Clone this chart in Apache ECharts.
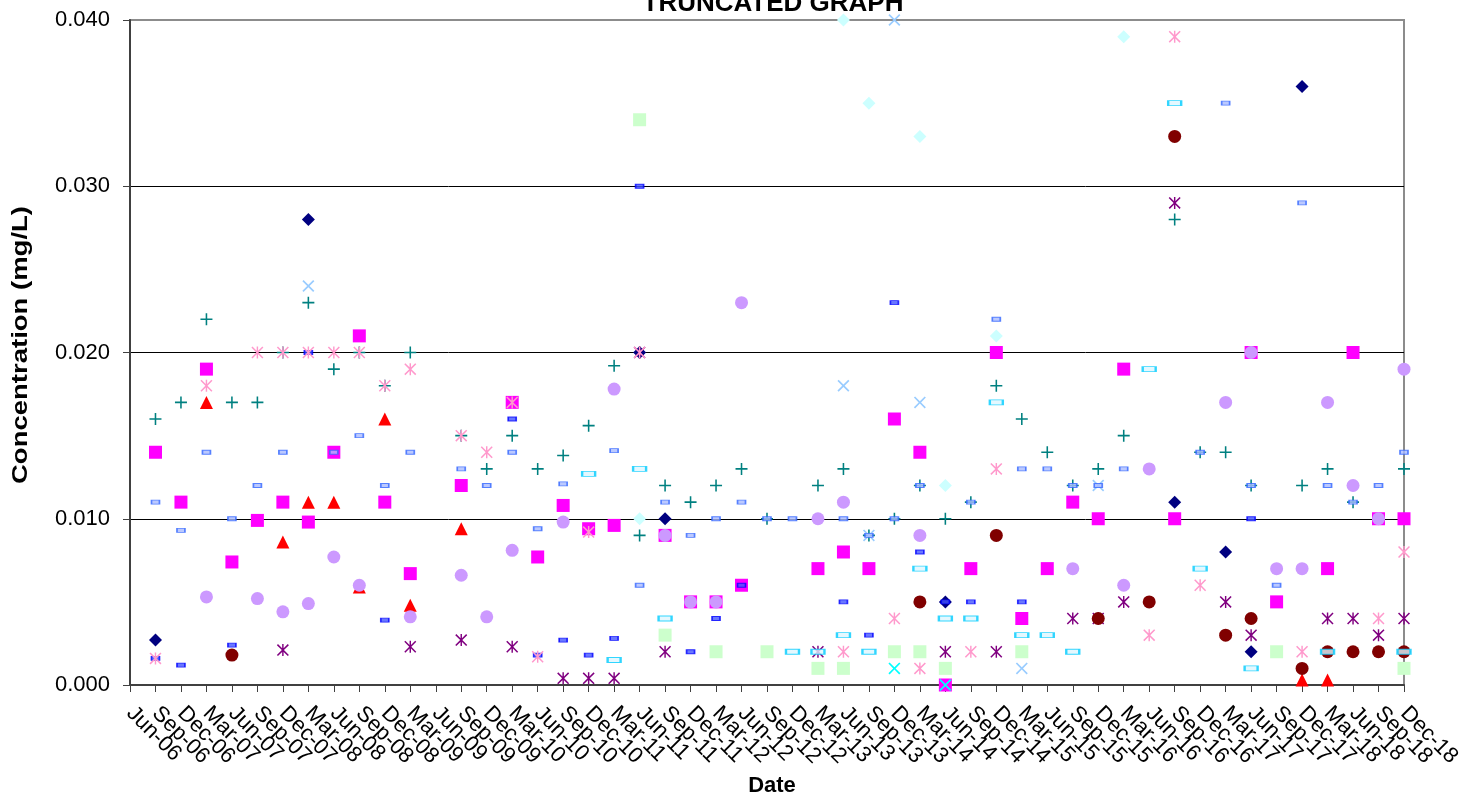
<!DOCTYPE html>
<html>
<head>
<meta charset="utf-8">
<script src="https://cdn.jsdelivr.net/npm/echarts@6/dist/echarts.min.js"></script>
<style>
  html, body { margin: 0; padding: 0; background: #fff; }
  #chart { width: 1479px; height: 797px; }
</style>
</head>
<body>
<div id="chart"></div>
<script>
// ---- Data (category index, concentration mg/L) ----
const categories = ['Jun-06','Sep-06','Dec-06','Mar-07','Jun-07','Sep-07','Dec-07','Mar-08','Jun-08','Sep-08','Dec-08','Mar-09','Jun-09','Sep-09','Dec-09','Mar-10','Jun-10','Sep-10','Dec-10','Mar-11','Jun-11','Sep-11','Dec-11','Mar-12','Jun-12','Sep-12','Dec-12','Mar-13','Jun-13','Sep-13','Dec-13','Mar-14','Jun-14','Sep-14','Dec-14','Mar-15','Jun-15','Sep-15','Dec-15','Mar-16','Jun-16','Sep-16','Dec-16','Mar-17','Jun-17','Sep-17','Dec-17','Mar-18','Jun-18','Sep-18','Dec-18'];
const yTickValues = [0, 0.01, 0.02, 0.03, 0.04];

const navyDiamond = [[1,0.0027],[7,0.028],[20,0.020],[21,0.010],[32,0.005],[41,0.011],[43,0.008],[44,0.002],[46,0.036]];
const magentaSquare = [[1,0.014],[2,0.011],[3,0.019],[4,0.0074],[5,0.0099],[6,0.011],[7,0.0098],[8,0.014],[9,0.021],[10,0.011],[11,0.0067],[13,0.012],[15,0.017],[16,0.0077],[17,0.0108],[18,0.0094],[19,0.0096],[21,0.009],[22,0.005],[23,0.005],[24,0.006],[27,0.007],[28,0.008],[29,0.007],[30,0.016],[31,0.014],[32,0.000],[33,0.007],[34,0.020],[35,0.004],[36,0.007],[37,0.011],[38,0.010],[39,0.019],[41,0.010],[44,0.020],[45,0.005],[47,0.007],[48,0.020],[49,0.010],[50,0.010]];
const redTriangle = [[3,0.017],[6,0.0086],[7,0.011],[8,0.011],[9,0.0059],[10,0.016],[11,0.0048],[13,0.0094],[46,0.0003],[47,0.0003]];
const cyanX = [[30,0.001],[32,0.000]];
const purpleAsterisk = [[6,0.0021],[11,0.0023],[13,0.0027],[15,0.0023],[17,0.0004],[18,0.0004],[19,0.0004],[20,0.020],[21,0.002],[27,0.002],[32,0.002],[34,0.002],[37,0.004],[38,0.004],[39,0.005],[41,0.029],[43,0.005],[44,0.003],[47,0.004],[48,0.004],[49,0.003],[50,0.004]];
const darkRedCircle = [[4,0.0018],[31,0.005],[34,0.009],[38,0.004],[40,0.005],[41,0.033],[43,0.003],[44,0.004],[46,0.001],[47,0.002],[48,0.002],[49,0.002],[50,0.002]];
const tealPlus = [[1,0.016],[2,0.017],[3,0.022],[4,0.017],[5,0.017],[6,0.020],[7,0.023],[8,0.019],[9,0.020],[10,0.018],[11,0.020],[13,0.015],[14,0.013],[15,0.015],[16,0.013],[17,0.0138],[18,0.0156],[19,0.0192],[20,0.009],[21,0.012],[22,0.011],[23,0.012],[24,0.013],[25,0.010],[27,0.012],[28,0.013],[29,0.009],[30,0.010],[31,0.012],[32,0.010],[33,0.011],[34,0.018],[35,0.016],[36,0.014],[37,0.012],[38,0.013],[39,0.015],[41,0.028],[42,0.014],[43,0.014],[44,0.012],[46,0.012],[47,0.013],[48,0.011],[50,0.013]];
const blueDash = [[1,0.0016],[2,0.0012],[4,0.0024],[7,0.020],[10,0.0039],[15,0.016],[16,0.0018],[17,0.0027],[18,0.0018],[19,0.0028],[20,0.030],[22,0.002],[23,0.004],[24,0.006],[28,0.005],[29,0.003],[30,0.023],[31,0.008],[32,0.005],[33,0.005],[35,0.005],[44,0.010]];
const cyanDash = [[18,0.0127],[19,0.0015],[20,0.013],[21,0.004],[26,0.002],[27,0.002],[28,0.003],[29,0.002],[31,0.007],[32,0.004],[33,0.004],[34,0.017],[35,0.003],[36,0.003],[37,0.002],[40,0.019],[41,0.035],[42,0.007],[44,0.001],[47,0.002],[50,0.002]];
const lightCyanDiamond = [[20,0.010],[28,0.040],[29,0.035],[31,0.033],[32,0.012],[34,0.021],[39,0.039]];
const lightGreenSquare = [[20,0.034],[21,0.003],[23,0.002],[25,0.002],[27,0.001],[28,0.001],[30,0.002],[31,0.002],[32,0.001],[35,0.002],[45,0.002],[50,0.001]];
const lightBlueX = [[7,0.024],[28,0.018],[29,0.009],[30,0.040],[31,0.017],[35,0.001],[38,0.012]];
const pinkAsterisk = [[1,0.0016],[3,0.018],[5,0.020],[6,0.020],[7,0.020],[8,0.020],[9,0.020],[10,0.018],[11,0.019],[13,0.015],[14,0.014],[15,0.017],[16,0.0017],[18,0.0092],[20,0.020],[28,0.002],[30,0.004],[31,0.001],[33,0.002],[34,0.013],[40,0.003],[41,0.039],[42,0.006],[46,0.002],[49,0.004],[50,0.008]];
const lavenderCircle = [[3,0.0053],[5,0.0052],[6,0.0044],[7,0.0049],[8,0.0077],[9,0.006],[11,0.0041],[13,0.0066],[14,0.0041],[15,0.0081],[17,0.0098],[19,0.0178],[21,0.009],[22,0.005],[23,0.005],[24,0.023],[27,0.010],[28,0.011],[31,0.009],[37,0.007],[39,0.006],[40,0.013],[43,0.017],[44,0.020],[45,0.007],[46,0.007],[47,0.017],[48,0.012],[49,0.010],[50,0.019]];
const lightBlueDash = [[1,0.011],[2,0.0093],[3,0.014],[4,0.010],[5,0.012],[6,0.014],[8,0.014],[9,0.015],[10,0.012],[11,0.014],[13,0.013],[14,0.012],[15,0.014],[16,0.0094],[17,0.0121],[19,0.0141],[20,0.006],[21,0.011],[22,0.009],[23,0.010],[24,0.011],[25,0.010],[26,0.010],[28,0.010],[29,0.009],[30,0.010],[31,0.012],[33,0.011],[34,0.022],[35,0.013],[36,0.013],[37,0.012],[38,0.012],[39,0.013],[42,0.014],[43,0.035],[44,0.012],[45,0.006],[46,0.029],[47,0.012],[48,0.011],[49,0.012],[50,0.014]];

// ---- Marker shapes ----
const X_PATH = 'path://M0,2L2,0L10,8L18,0L20,2L12,10L20,18L18,20L10,12L2,20L0,18L8,10Z';
const AST_PATH = 'path://M0,1.8L1.8,0L10,8.2L18.2,0L20,1.8L11.8,10L20,18.2L18.2,20L10,11.8L1.8,20L0,18.2L8.2,10Z M8.8,0H11.2V20H8.8Z';
const PLUS_PATH = 'path://M8.7,0H11.3V8.7H20V11.3H11.3V20H8.7V11.3H0V8.7H8.7Z';

function sc(name, data, symbol, size, color, extra) {
  return Object.assign({
    name: name, type: 'scatter', data: data, symbol: symbol, symbolSize: size,
    clip: false, itemStyle: { color: color, opacity: 1 },
    emphasis: { disabled: true }
  }, extra || {});
}

const series = [
  sc('Series 1', navyDiamond, 'diamond', 13, '#000080'),
  sc('Series 2', magentaSquare, 'rect', 13, '#FF00FF'),
  sc('Series 3', redTriangle, 'triangle', 13, '#FF0000'),
  sc('Series 4', cyanX, X_PATH, 12, '#00FFFF'),
  sc('Series 5', purpleAsterisk, AST_PATH, 12, '#800080'),
  sc('Series 6', darkRedCircle, 'circle', 13, '#800000'),
  sc('Series 7', tealPlus, PLUS_PATH, 12, '#008080'),
  sc('Series 8', blueDash, 'rect', [8, 4], '#3344FF', { itemStyle: { color: '#4455ff', borderColor: '#0000FF', borderWidth: 1.2 } }),
  sc('Series 9', cyanDash, 'rect', [13, 5], '#00CCFF', { itemStyle: { color: '#ddf6ff', borderColor: '#00CCFF', borderWidth: 1.5 } }),
  sc('Series 10', lightCyanDiamond, 'diamond', 13, '#CCFFFF'),
  sc('Series 11', lightGreenSquare, 'rect', 13, '#CCFFCC'),
  sc('Series 13', lightBlueX, X_PATH, 12, '#99CCFF'),
  sc('Series 14', pinkAsterisk, AST_PATH, 12, '#FF99CC'),
  sc('Series 15', lavenderCircle, 'circle', 13, '#CC99FF'),
  sc('Series 17', lightBlueDash, 'rect', [8, 4], '#3366FF', { itemStyle: { color: '#aabbff', borderColor: '#3366FF', borderWidth: 1.2 } })
];

const FONT = '"Liberation Sans", Arial, sans-serif';
const chart = echarts.init(document.getElementById('chart'), null, { renderer: 'canvas' });
chart.setOption({
  animation: false,
  backgroundColor: '#ffffff',
  textStyle: { fontFamily: FONT },
  graphic: [{
    type: 'text', x: 773, y: 17, z: 100,
    style: { text: 'TRUNCATED GRAPH', fontFamily: FONT, fontSize: 26, fontWeight: 'bold', fill: '#000', textAlign: 'center', textVerticalAlign: 'bottom' }
  }, {
    type: 'text', x: 21, y: 345, rotation: Math.PI / 2, scaleX: 1.25, z: 100,
    style: { text: 'Concentration (mg/L)', fontFamily: FONT, fontSize: 22, fontWeight: 'bold', fill: '#000', textAlign: 'center', textVerticalAlign: 'middle' }
  }],
  grid: { left: 130, right: 75, top: 20, bottom: 112, show: true, borderColor: '#8c8c8c', borderWidth: 2, backgroundColor: 'transparent', outerBoundsMode: 'none' },
  xAxis: {
    type: 'category', data: categories, boundaryGap: false,
    name: 'Date', nameLocation: 'middle', nameGap: 90,
    nameTextStyle: { fontFamily: FONT, fontSize: 22, fontWeight: 'bold', color: '#000', padding: [0, 0, 0, 10] },
    axisLine: { show: true, onZero: false, lineStyle: { color: '#404040', width: 2 } },
    axisTick: { show: true, interval: 0, inside: false, length: 7, lineStyle: { color: '#404040', width: 1 } },
    axisLabel: { interval: 0, rotate: -45, margin: 25, fontFamily: FONT, fontSize: 22, color: '#000' },
    splitLine: { show: false }
  },
  yAxis: {
    type: 'value', min: yTickValues[0], max: yTickValues[yTickValues.length - 1], interval: 0.01,
    axisLine: { show: true, lineStyle: { color: '#404040', width: 2 } },
    axisTick: { show: true, inside: false, length: 7, lineStyle: { color: '#404040', width: 1 } },
    axisLabel: { margin: 20, fontFamily: FONT, fontSize: 22, color: '#000', formatter: function (v) { return v.toFixed(3); } },
    splitLine: { show: true, showMinLine: false, showMaxLine: false, lineStyle: { color: '#000', width: 1 } }
  },
  series: series
});
</script>
</body>
</html>
